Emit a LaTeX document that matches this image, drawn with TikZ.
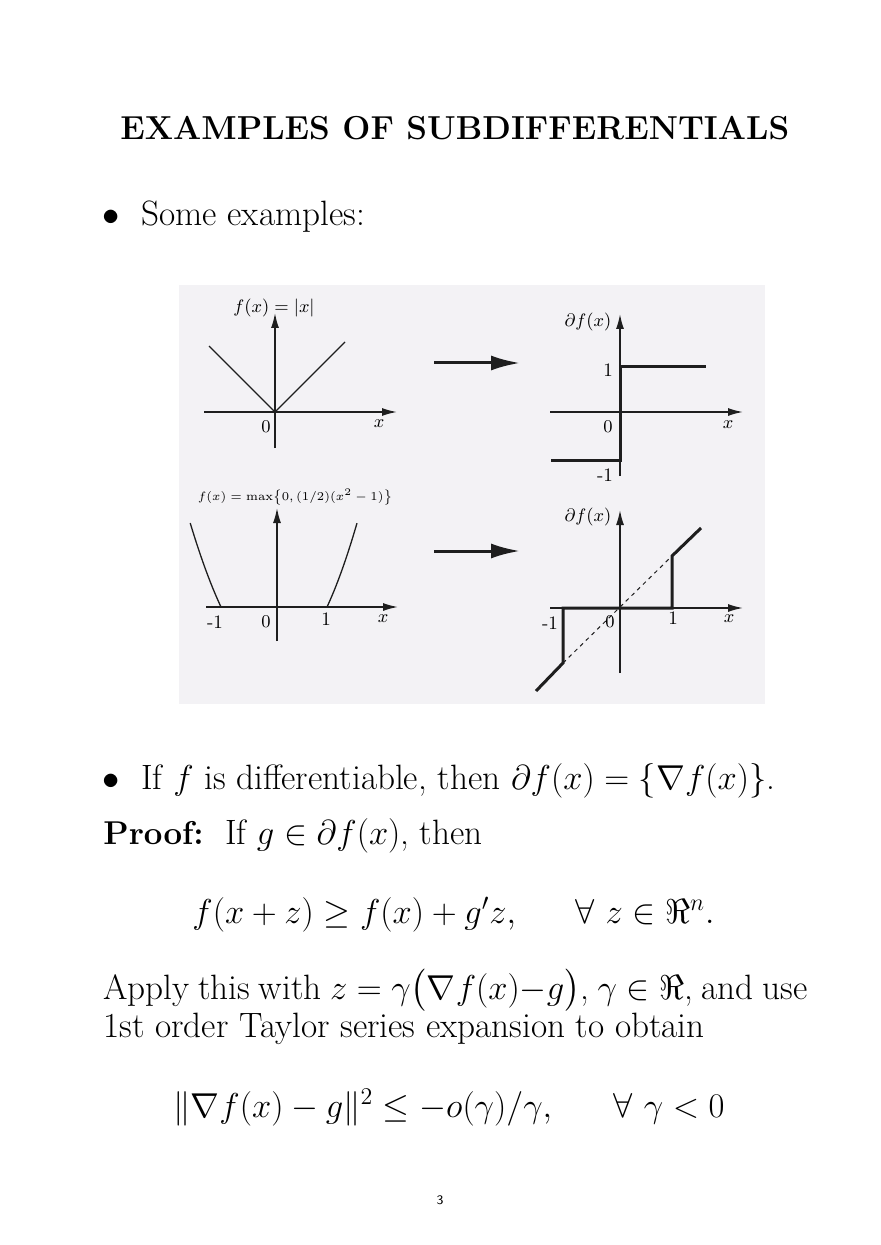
\documentclass[tikz,border=0pt]{standalone}
\usepackage{amsmath}
\usepackage{amssymb}
\usepackage{tikz}
\usetikzlibrary{positioning,calc}
\usetikzlibrary{arrows.meta}
\definecolor{panelgray}{RGB}{243,242,245}
\definecolor{inkgray}{RGB}{30,30,30}
\tikzstyle{axis} = [line width=0.75pt,inkgray,-{Latex[length=7.5pt,width=4pt]}]
\tikzstyle{curve} = [line width=0.65pt,inkgray]
\tikzstyle{subgrad} = [line width=1.5pt,inkgray]
\tikzstyle{bigarrow} = [line width=1.5pt,inkgray,-{Latex[length=14.5pt,width=7.5pt]}]
\tikzstyle{bodytext} = [anchor=base west,inner sep=0pt,font=\fontsize{17.6}{21}\selectfont]
\tikzstyle{ticklabel} = [inner sep=0pt,font=\fontsize{9.5}{11}\selectfont]

\begin{document}
\begin{tikzpicture}[x=0.5pt,y=-0.5pt]
	\useasboundingbox (0,0) rectangle (880,1245);

	% TEXT ABOVE
	\node [anchor=base west,inner sep=0pt,font=\fontsize{16.6}{20}\selectfont\bfseries] (slidetitle) at (120,140) {EXAMPLES OF SUBDIFFERENTIALS};
	\node [bodytext] (bulletone) at (102,226) {$\bullet$};
	\node [bodytext] (someex) at (141,226) {Some examples:};

	% FIGURE
	\fill [panelgray] (179,285) rectangle (765,704);

	% top left: |x|
	\coordinate (oa) at (275,412);
	\draw [axis] (204,412) -- (397,412);
	\draw [axis] (275,448) -- (275,313);
	\draw [curve] (209,346) -- (oa) -- (345,342);
	\node [ticklabel] (absfun) at (274,308) {$f(x) = |x|$};
	\node [ticklabel] (azero) at (266,427) {$0$};
	\node [ticklabel] (ax) at (379,424) {$x$};

	% top right: sign
	\coordinate (ob) at (620,412);
	\draw [axis] (550,412) -- (743,412);
	\draw [axis] (620,476) -- (620,314);
	\draw [subgrad] (551,460) -- (620,460) -- (620,367) -- (706,367);
	\node [ticklabel] (bsub) at (588,322) {$\partial f(x)$};
	\node [ticklabel] (bone) at (608,370) {1};
	\node [ticklabel] (bzero) at (608,427) {$0$};
	\node [ticklabel] (bx) at (728,425) {$x$};
	\node [ticklabel] (bmone) at (605,475) {-1};

	% bottom left: max{0,...}
	\coordinate (oc) at (277,607);
	\draw [axis] (206,607) -- (398,607);
	\draw [axis] (277,641) -- (277,508);
	\draw [curve] plot[domain=1:1.55,samples=30] ({277-56*\x},{607-59.9*(\x*\x-1)});
	\draw [curve] plot[domain=1:1.6,samples=30] ({277+50*\x},{607-53.8*(\x*\x-1)});
	\node [inner sep=0pt,font=\fontsize{6.4}{8}\selectfont] (maxfun) at (295,497) {$f(x) = \max\bigl\{0,(1/2)(x^2-1)\bigr\}$};
	\node [ticklabel] (cmone) at (215,622) {-1};
	\node [ticklabel] (czero) at (266,622) {$0$};
	\node [ticklabel] (cone) at (326,619) {1};
	\node [ticklabel] (cx) at (383,619) {$x$};

	% bottom right: its subdifferential
	\coordinate (od) at (620,608);
	\coordinate (dlow) at (563,663);
	\coordinate (dhigh) at (672,556);
	\draw [axis] (550,608) -- (743,608);
	\draw [axis] (620,673) -- (620,510);
	\draw [line width=0.5pt,inkgray,dash pattern=on 2pt off 2pt] (dlow) -- (dhigh);
	\draw [subgrad] (536,691) -- (dlow) -- (563,608) -- (672,608) -- (dhigh) -- (701,528);
	\node [ticklabel] (dsub) at (588,517) {$\partial f(x)$};
	\node [ticklabel] (dmone) at (550,623) {-1};
	\node [ticklabel] (dzero) at (610,622) {$0$};
	\node [ticklabel] (done) at (673,618) {1};
	\node [ticklabel] (dx) at (729,619) {$x$};

	% arrows between panels
	\coordinate (arrowatail) at (434,363);
	\coordinate (arrowahead) at (520,363);
	\coordinate (arrowbtail) at (434,551);
	\coordinate (arrowbhead) at (520,551);
	\draw [bigarrow] (arrowatail) -- (arrowahead);
	\draw [bigarrow] (arrowbtail) -- (arrowbhead);

	% TEXT BELOW
	\node [bodytext] (bullettwo) at (102,789) {$\bullet$};
	\node [bodytext] (diffline) at (141,789) {If $f$ is differentiable, then $\partial f(x)=\{\nabla f(x)\}$.};
	\node [bodytext] (proofline) at (103,844) {{\fontsize{16.5}{20}\selectfont\textbf{Proof:}}\ \ If $g\in\partial f(x)$, then};
	\node [bodytext] (ineqone) at (192,923) {$f(x+z)\geq f(x)+g'z,\hspace{27pt}\forall\ z\in\Re^n.$};
	\node [bodytext] (applyline) at (103,999) {\spaceskip=4.3pt Apply this with $z=\gamma\bigl(\nabla f(x){-}g\bigr)$, $\gamma\in\Re$, and use};
	\node [bodytext] (taylorline) at (103,1037) {1st order Taylor series expansion to obtain};
	\node [bodytext] (ineqtwo) at (173,1117) {$\|\nabla f(x)-g\|^2\leq -o(\gamma)/\gamma,\hspace{28pt}\forall\ \gamma<0$};

	% page number
	\node [inner sep=0pt,anchor=base,font=\fontsize{6.5}{8}\selectfont\sffamily] (pagenum) at (440,1204) {3};
\end{tikzpicture}
\end{document}
